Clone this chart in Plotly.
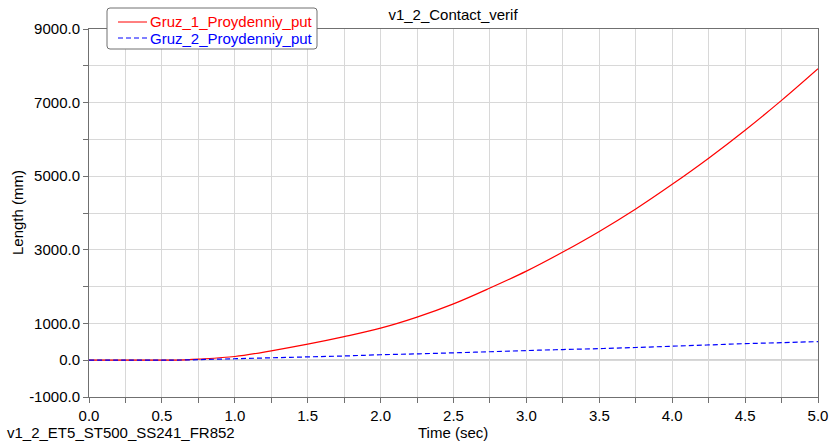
import plotly.graph_objects as go

time_sec = [0.0, 0.25, 0.5, 0.6, 0.75, 1.0, 1.25, 1.5, 1.75, 2.0, 2.25, 2.5, 2.75,
            3.0, 3.25, 3.5, 3.75, 4.0, 4.25, 4.5, 4.75, 5.0]
gruz_1 = [0, 0, 0, 3, 30, 100, 255, 435, 640, 870, 1170, 1530, 1960,
          2420, 2940, 3500, 4110, 4780, 5490, 6250, 7060, 7920]
gruz_2 = [0, 0, 0, 3, 15, 40, 65, 90, 115, 148, 172, 200, 230,
          262, 290, 315, 345, 380, 415, 450, 477, 505]
series_names = ["Gruz_1_Proydenniy_put", "Gruz_2_Proydenniy_put"]

y_tickvals = [-1000, 0, 1000, 2000, 3000, 4000, 5000, 6000, 7000, 8000, 9000]
y_ticktext = ["-1000.0", "0.0", "1000.0", "", "3000.0", "", "5000.0", "", "7000.0", "", "9000.0"]
x_tickvals = [0.0, 0.25, 0.5, 0.75, 1.0, 1.25, 1.5, 1.75, 2.0, 2.25, 2.5, 2.75,
              3.0, 3.25, 3.5, 3.75, 4.0, 4.25, 4.5, 4.75, 5.0]
x_ticktext = ["0.0", "", "0.5", "", "1.0", "", "1.5", "", "2.0", "", "2.5", "",
              "3.0", "", "3.5", "", "4.0", "", "4.5", "", "5.0"]

FONT = "Liberation Sans, Arial, sans-serif"
W, H = 833, 441
L, R, T, B = 89, 15, 29, 44
PW, PH = W - L - R, H - T - B


def px(xp):
    return (xp - L) / PW


def py(yp):
    return (H - B - yp) / PH


colors = ["#ff0000", "#0000ff"]
dashes = ["solid", "5px,3px"]

fig = go.Figure()
fig.add_trace(go.Scatter(
    x=time_sec, y=gruz_1, mode="lines", line_shape="spline",
    name=series_names[0], showlegend=False,
    line=dict(color=colors[0], width=1.2),
))
fig.add_trace(go.Scatter(
    x=time_sec, y=gruz_2, mode="lines", line_shape="spline",
    name=series_names[1], showlegend=False,
    line=dict(color=colors[1], width=1.2, dash=dashes[1]),
))

axis_common = dict(
    showline=True, linecolor="#707070", linewidth=1, mirror=True,
    ticks="outside", ticklen=5, tickcolor="#707070",
    gridcolor="#d8d8d8", gridwidth=1,
    tickfont=dict(family=FONT, size=15, color="#000000"),
    zeroline=False, automargin=False,
)

# legend box (rounded rectangle)
x0, x1, y0, y1, r = 107, 317, 8, 49, 3
path = (f"M {px(x0 + r)},{py(y0)} L {px(x1 - r)},{py(y0)} Q {px(x1)},{py(y0)} {px(x1)},{py(y0 + r)} "
        f"L {px(x1)},{py(y1 - r)} Q {px(x1)},{py(y1)} {px(x1 - r)},{py(y1)} "
        f"L {px(x0 + r)},{py(y1)} Q {px(x0)},{py(y1)} {px(x0)},{py(y1 - r)} "
        f"L {px(x0)},{py(y0 + r)} Q {px(x0)},{py(y0)} {px(x0 + r)},{py(y0)} Z")

shapes = [
    dict(type="line", xref="paper", yref="y", x0=0, x1=1, y0=0, y1=0,
         line=dict(color="#707070", width=1), layer="below"),
    dict(type="path", xref="paper", yref="paper", path=path,
         fillcolor="white", line=dict(color="#707070", width=1), layer="above"),
]
annotations = [
    dict(text="Length (mm)", xref="paper", yref="paper", x=px(17), y=0.5,
         textangle=-90, showarrow=False, xanchor="center", yanchor="middle",
         font=dict(family=FONT, size=15)),
    dict(text="Time (sec)", xref="paper", yref="paper", x=px(453), y=py(432),
         showarrow=False, xanchor="center", yanchor="middle",
         font=dict(family=FONT, size=15)),
    dict(text="v1_2_ET5_ST500_SS241_FR852", xref="paper", yref="paper",
         x=px(5), y=py(432), showarrow=False, xanchor="left", yanchor="middle",
         font=dict(family=FONT, size=15)),
]
for i, nm in enumerate(series_names):
    yy = 22 + 16 * i
    shapes.append(dict(type="line", xref="paper", yref="paper",
                       x0=px(118), x1=px(147), y0=py(yy), y1=py(yy),
                       line=dict(color=colors[i], width=1, dash=dashes[i]), layer="above"))
    annotations.append(dict(text=nm, xref="paper", yref="paper", x=px(148), y=py(yy),
                            showarrow=False, xanchor="left", yanchor="middle",
                            font=dict(family=FONT, size=15, color=colors[i])))

fig.update_layout(
    width=W, height=H,
    margin=dict(l=L, r=R, t=T, b=B, autoexpand=False),
    paper_bgcolor="white", plot_bgcolor="white",
    font=dict(family=FONT, size=15, color="#000000"),
    title=dict(text="v1_2_Contact_verif", x=453 / W, xanchor="center",
               y=1 - 15 / H, yanchor="middle",
               font=dict(family=FONT, size=15, color="#000000")),
    xaxis=dict(range=[0, 5], tickvals=x_tickvals, ticktext=x_ticktext, **axis_common),
    yaxis=dict(range=[-1000, 9000], tickvals=y_tickvals, ticktext=y_ticktext, **axis_common),
    showlegend=False,
    shapes=shapes,
    annotations=annotations,
)

fig.write_html("out.html", config={"displayModeBar": False},
               post_script="document.body.style.margin='0';document.body.style.overflow='hidden';")
